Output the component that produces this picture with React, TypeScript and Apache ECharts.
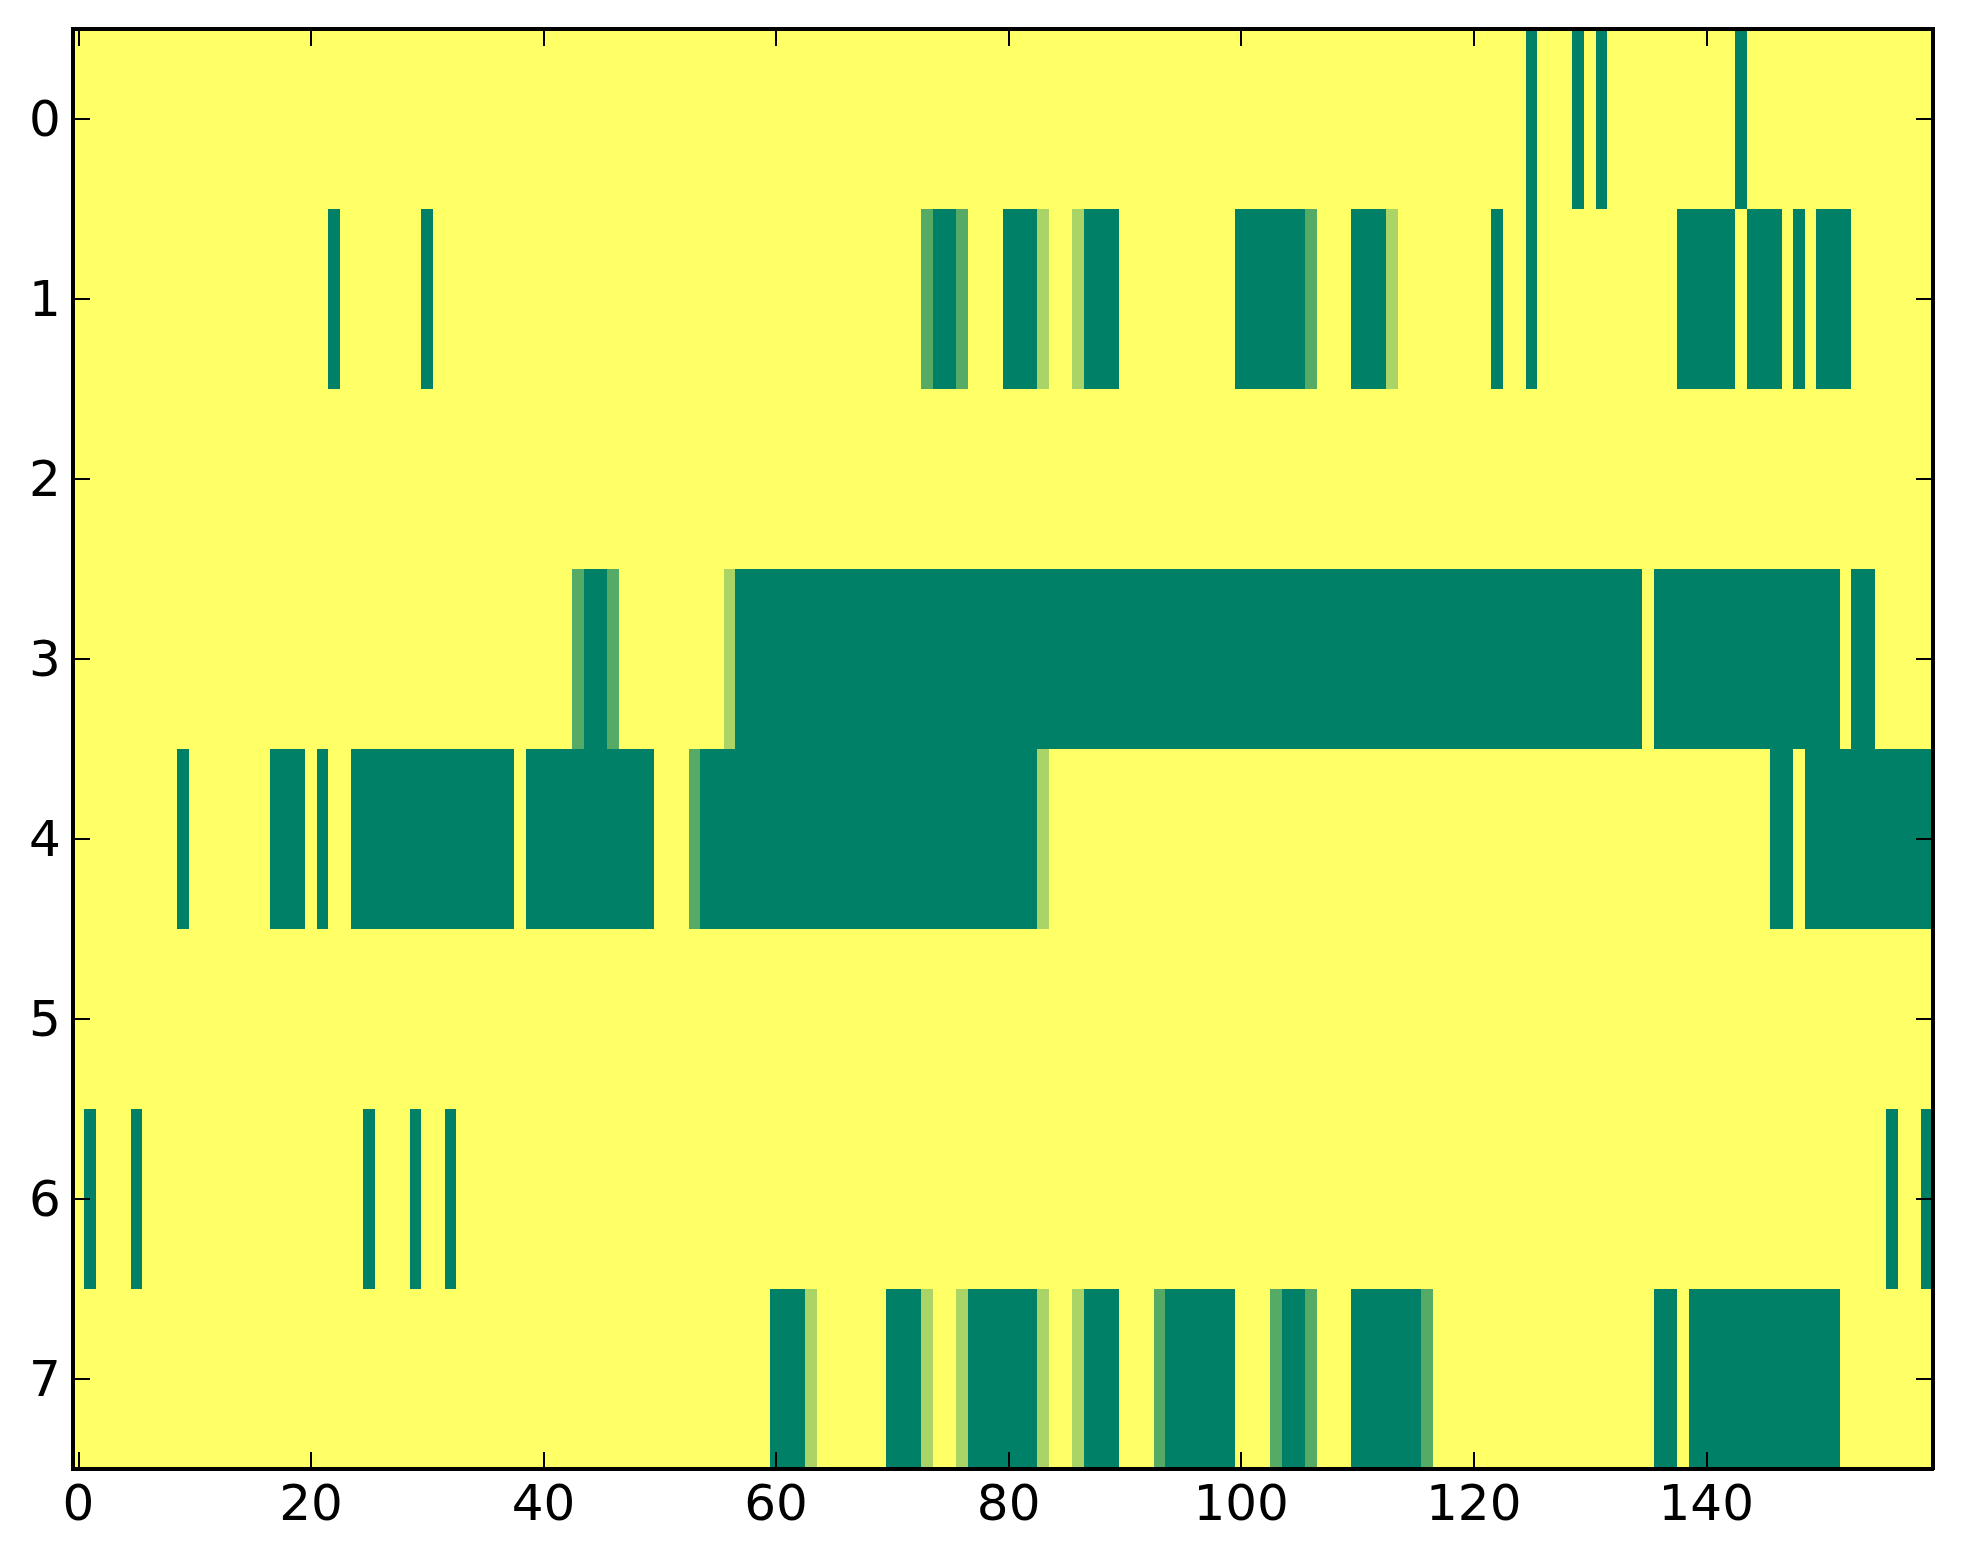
import React, { useEffect, useRef } from "react";
import * as echarts from "echarts";

// Column indices 0..159 (image columns), row indices 0..7
const COLS = 160;
const xCategories: string[] = Array.from({ length: COLS }, (_, i) => String(i));
const yCategories: string[] = ["0", "1", "2", "3", "4", "5", "6", "7"];

// Cell levels: 0 = dark green, 1/3 = medium green, 2/3 = light green, 1 = yellow (background)
const DARK = 0;
const MED = 1 / 3;
const LIGHT = 2 / 3;
const BASE = 1;

// Non-yellow runs per row: [firstCol, lastCol, level]
const row0: number[][] = [
  [125, 125, DARK], [129, 129, DARK], [131, 131, DARK], [143, 143, DARK],
];
const row1: number[][] = [
  [22, 22, DARK], [30, 30, DARK],
  [73, 73, MED], [74, 75, DARK], [76, 76, MED],
  [80, 82, DARK], [83, 83, LIGHT],
  [86, 86, LIGHT], [87, 89, DARK],
  [100, 105, DARK], [106, 106, MED],
  [110, 112, DARK], [113, 113, LIGHT],
  [122, 122, DARK], [125, 125, DARK],
  [138, 142, DARK], [144, 146, DARK], [148, 148, DARK], [150, 152, DARK],
];
const row2: number[][] = [];
const row3: number[][] = [
  [43, 43, MED], [44, 45, DARK], [46, 46, MED],
  [56, 56, LIGHT], [57, 134, DARK],
  [136, 151, DARK], [153, 154, DARK],
];
const row4: number[][] = [
  [9, 9, DARK], [17, 19, DARK], [21, 21, DARK], [24, 37, DARK], [39, 49, DARK],
  [53, 53, MED], [54, 82, DARK], [83, 83, LIGHT],
  [146, 147, DARK], [149, 159, DARK],
];
const row5: number[][] = [];
const row6: number[][] = [
  [1, 1, DARK], [5, 5, DARK], [25, 25, DARK], [29, 29, DARK], [32, 32, DARK],
  [156, 156, DARK], [159, 159, DARK],
];
const row7: number[][] = [
  [60, 62, DARK], [63, 63, LIGHT],
  [70, 72, DARK], [73, 73, LIGHT],
  [76, 76, LIGHT], [77, 82, DARK], [83, 83, LIGHT],
  [86, 86, LIGHT], [87, 89, DARK],
  [93, 93, MED], [94, 99, DARK],
  [103, 103, MED], [104, 105, DARK], [106, 106, MED],
  [110, 115, DARK], [116, 116, MED],
  [136, 137, DARK], [139, 151, DARK],
];
const rows = [row0, row1, row2, row3, row4, row5, row6, row7];

const xTickLabels = ["0", "20", "40", "60", "80", "100", "120", "140"];

function buildData(): number[][] {
  const out: number[][] = [];
  rows.forEach((runs, r) => {
    for (let c = 0; c < COLS; c++) {
      let v = BASE;
      for (const [a, b, lvl] of runs) {
        if (c >= a && c <= b) v = lvl;
      }
      out.push([c, r, v]);
    }
  });
  return out;
}

export default function App() {
  const ref = useRef<HTMLDivElement>(null);
  useEffect(() => {
    if (!ref.current) return;
    const chart = echarts.init(ref.current, undefined, { renderer: "svg" });
    const showX = (idx: number) => xTickLabels.includes(xCategories[idx]);
    const font = "DejaVu Sans";
    const lineStyle = { color: "#000", width: 4 };
    const tickStyle = { color: "#000", width: 2 };
    chart.setOption({
      animation: false,
      backgroundColor: "#fff",
      grid: { left: 64.7, right: 22, top: 21, bottom: 87, containLabel: false },
      xAxis: [
        {
          type: "category",
          data: xCategories,
          position: "bottom",
          z: 10,
          axisLine: { show: true, lineStyle },
          axisTick: { show: true, inside: true, length: 17, alignWithLabel: true, interval: showX, lineStyle: tickStyle },
          axisLabel: { show: true, interval: showX, margin: 9, color: "#000", fontSize: 50, fontFamily: font },
          splitLine: { show: false },
        },
        {
          type: "category",
          data: xCategories,
          position: "top",
          z: 10,
          axisLine: { show: true, lineStyle },
          axisTick: { show: true, inside: true, length: 17, alignWithLabel: true, interval: showX, lineStyle: tickStyle },
          axisLabel: { show: false },
          splitLine: { show: false },
        },
      ],
      yAxis: [
        {
          type: "category",
          data: yCategories,
          inverse: true,
          position: "left",
          z: 10,
          axisLine: { show: true, lineStyle },
          axisTick: { show: true, inside: true, length: 17, alignWithLabel: true, interval: 0, lineStyle: tickStyle },
          axisLabel: { show: true, interval: 0, margin: 12, color: "#000", fontSize: 50, fontFamily: font },
          splitLine: { show: false },
        },
        {
          type: "category",
          data: yCategories,
          inverse: true,
          position: "right",
          z: 10,
          axisLine: { show: true, lineStyle },
          axisTick: { show: true, inside: true, length: 17, alignWithLabel: true, interval: 0, lineStyle: tickStyle },
          axisLabel: { show: false },
          splitLine: { show: false },
        },
      ],
      visualMap: {
        type: "continuous",
        show: false,
        min: 0,
        max: 1,
        dimension: 2,
        seriesIndex: 0,
        inRange: { color: ["#008066", "#ffff66"] },
      },
      series: [
        {
          type: "heatmap",
          xAxisIndex: 0,
          yAxisIndex: 0,
          data: buildData(),
          itemStyle: { borderWidth: 0 },
          emphasis: { disabled: true },
          progressive: 0,
        },
      ],
    });
    const svg = ref.current.querySelector("svg");
    if (svg) (svg as SVGElement).style.shapeRendering = "crispEdges";
    return () => chart.dispose();
  }, []);
  return <div ref={ref} style={{ width: 1947, height: 1548 }} />;
}
